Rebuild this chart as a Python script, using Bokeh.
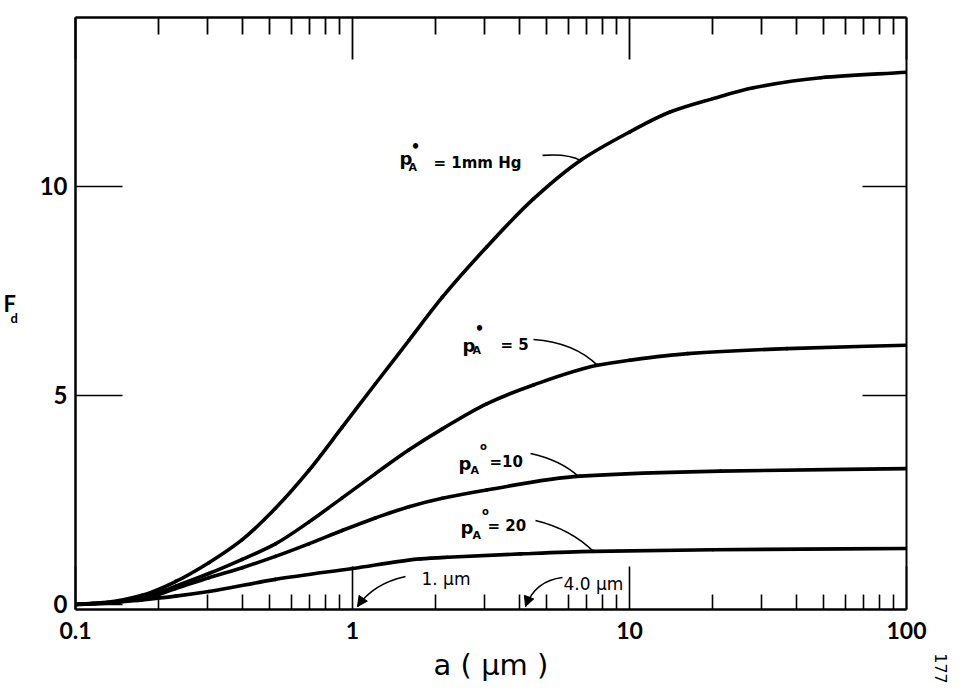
from math import pi, log10
from bokeh.plotting import figure
from bokeh.models import LogAxis, LinearAxis, FixedTicker, Range1d, Label, Arrow, NormalHead
from bokeh.embed import file_html
from bokeh.resources import INLINE

# ---------------- data ----------------
a_1mm = [0.1, 0.13, 0.174, 0.23, 0.303, 0.40, 0.527, 0.695, 0.918, 1.21, 1.6, 2.11, 3.05, 4.5, 6.65, 10, 14, 20, 28, 49, 100]
F_1mm = [0.0, 0.05, 0.22, 0.55, 1.00, 1.55, 2.30, 3.20, 4.24, 5.28, 6.32, 7.35, 8.55, 9.70, 10.62, 11.30, 11.78, 12.10, 12.36, 12.60, 12.73]

a_5 = [0.1, 0.13, 0.174, 0.23, 0.303, 0.40, 0.527, 0.695, 0.918, 1.21, 1.6, 2.11, 3.05, 4.5, 7.66, 10, 16.2, 37, 100]
F_5 = [0.0, 0.04, 0.16, 0.44, 0.74, 1.08, 1.45, 1.97, 2.55, 3.13, 3.70, 4.20, 4.80, 5.25, 5.72, 5.84, 6.00, 6.12, 6.20]

a_10 = [0.1, 0.13, 0.174, 0.23, 0.303, 0.40, 0.527, 0.695, 0.918, 1.21, 1.6, 2.11, 3.05, 6.65, 21.3, 100]
F_10 = [0.0, 0.04, 0.13, 0.38, 0.64, 0.88, 1.15, 1.45, 1.77, 2.07, 2.34, 2.54, 2.74, 3.07, 3.19, 3.25]

a_20 = [0.1, 0.13, 0.174, 0.23, 0.303, 0.527, 1.0, 1.76, 2.2, 4.04, 7.4, 20, 100]
F_20 = [0.0, 0.03, 0.11, 0.20, 0.31, 0.60, 0.86, 1.09, 1.13, 1.21, 1.27, 1.31, 1.34]

x_major = [0.1, 1, 10, 100]
x_major_labels = ["0.1", "1", "10", "100"]
x_minor = [0.2, 0.3, 0.4, 0.5, 0.6, 0.7, 0.8, 0.9,
           2, 3, 4, 5, 6, 7, 8, 9,
           20, 30, 40, 50, 60, 70, 80, 90]
y_major = [0, 5, 10]
y_major_labels = ["0", "5", "10"]
y_right_ticks = [5, 10]

x_title = "a ( μm )"
y_title_main = "F"
y_title_sub = "d"
curve_labels = ["= 1mm  Hg", "= 5", "=10", "= 20"]
marker_labels = ["1. μm", "4.0 μm"]
page_number = "177"

# ---------------- helpers for annotation placement (pixel -> data) ----------------
def sx(px):
    return 10 ** (-1 + (px - 75) / 277.0)

def sy(py):
    return (604 - py) / 41.8

TICK_FONT = "Lato"
ANN_FONT = "DejaVu Sans"

p = figure(width=960, height=694, x_axis_type="log",
           x_range=Range1d(0.1, 100), y_range=Range1d(-0.12, 14.04),
           output_backend="svg", toolbar_location=None,
           min_border_left=75, min_border_right=54, min_border_top=17, min_border_bottom=85,
           outline_line_color=None, background_fill_color="white", border_fill_color="white")
p.grid.visible = False

# bottom axis
xb = p.xaxis[0]
xb.ticker = FixedTicker(ticks=x_major, minor_ticks=x_minor)
xb.major_label_overrides = dict(zip(x_major, x_major_labels))
xb.major_tick_in = 43
xb.major_tick_out = 0
xb.minor_tick_in = 15
xb.minor_tick_out = 0
xb.axis_line_width = 2.5
xb.major_tick_line_width = 1.6
xb.minor_tick_line_width = 1.6
xb.major_label_text_font = TICK_FONT
xb.major_label_text_font_style = "bold"
xb.major_label_text_font_size = "23px"
xb.major_label_text_color = "black"
xb.major_label_standoff = 12
xb.axis_label = x_title
xb.axis_label_text_font = ANN_FONT
xb.axis_label_text_font_style = "normal"
xb.axis_label_text_font_size = "29px"
xb.axis_label_text_color = "black"
xb.axis_label_standoff = 6

# top axis
xt = LogAxis(ticker=FixedTicker(ticks=x_major, minor_ticks=x_minor),
             major_label_overrides={t: "" for t in x_major},
             major_tick_in=42, major_tick_out=0, minor_tick_in=17, minor_tick_out=0,
             axis_line_width=2.5, major_tick_line_width=1.8, minor_tick_line_width=1.8,
             major_label_text_font_size="0px", major_label_standoff=0)
p.add_layout(xt, "above")

# left axis
yl = p.yaxis[0]
yl.ticker = FixedTicker(ticks=y_major, minor_ticks=[])
yl.major_label_overrides = dict(zip(y_major, y_major_labels))
yl.major_tick_in = 47
yl.major_tick_out = 0
yl.minor_tick_in = 0
yl.minor_tick_out = 0
yl.axis_line_width = 2.5
yl.major_tick_line_width = 1.6
yl.major_label_text_font = TICK_FONT
yl.major_label_text_font_style = "bold"
yl.major_label_text_font_size = "24px"
yl.major_label_text_color = "black"
yl.major_label_standoff = 8

# right axis
yr = LinearAxis(ticker=FixedTicker(ticks=y_right_ticks, minor_ticks=[]),
                major_label_overrides={t: "" for t in y_right_ticks},
                major_tick_in=44, major_tick_out=0, minor_tick_in=0, minor_tick_out=0,
                axis_line_width=2, major_tick_line_width=1.6,
                major_label_text_font_size="0px", major_label_standoff=0)
p.add_layout(yr, "right")

# ---------------- curves: drawn through the read points as monotone cubic bezier pieces ----------------
def pchip_pieces(xs, ys):
    u = [log10(v) for v in xs]
    n = len(u)
    h = [u[i + 1] - u[i] for i in range(n - 1)]
    d = [(ys[i + 1] - ys[i]) / h[i] for i in range(n - 1)]
    m = [0.0] * n
    m[0], m[-1] = d[0], d[-1]
    for i in range(1, n - 1):
        if d[i - 1] * d[i] <= 0:
            m[i] = 0.0
        else:
            w1 = 2 * h[i] + h[i - 1]
            w2 = h[i] + 2 * h[i - 1]
            m[i] = (w1 + w2) / (w1 / d[i - 1] + w2 / d[i])
    out = {k: [] for k in ("x0", "y0", "x1", "y1", "cx0", "cy0", "cx1", "cy1")}
    for i in range(n - 1):
        out["x0"].append(xs[i]); out["y0"].append(ys[i])
        out["x1"].append(xs[i + 1]); out["y1"].append(ys[i + 1])
        out["cx0"].append(10 ** (u[i] + h[i] / 3)); out["cy0"].append(ys[i] + m[i] * h[i] / 3)
        out["cx1"].append(10 ** (u[i + 1] - h[i] / 3)); out["cy1"].append(ys[i + 1] - m[i + 1] * h[i] / 3)
    return out

for a, F in [(a_1mm, F_1mm), (a_5, F_5), (a_10, F_10), (a_20, F_20)]:
    pc = pchip_pieces(a, F)
    p.bezier(line_width=3.6, line_color="black", line_cap="round", **pc)

# ---------------- annotations ----------------
def lbl(px, py, text, size, font=ANN_FONT, style="bold", baseline="alphabetic", align="left", angle=0.0):
    p.add_layout(Label(x=sx(px), y=sy(py), text=text, text_font=font, text_font_style=style,
                       text_font_size=f"{size}px", text_color="black",
                       text_baseline=baseline, text_align=align, angle=angle))

def side_lbl(side, x, y, text, size, font=ANN_FONT, style="bold", baseline="alphabetic", align="left", angle=0.0):
    p.add_layout(Label(x=x, y=y, x_units="screen", y_units="screen",
                       text=text, text_font=font, text_font_style=style,
                       text_font_size=f"{size}px", text_color="black",
                       text_baseline=baseline, text_align=align, angle=angle), side)

def pA(px, py, sup_filled, sup_dx, sup_dy, sub_dx, sub_dy):
    lbl(px, py, "p", 18)
    lbl(px + sub_dx, py + sub_dy, "A", 11)
    if sup_filled:
        lbl(px + sup_dx, py + sup_dy, "•", 15, baseline="middle", align="center")
    else:
        lbl(px + sup_dx, py + sup_dy, "o", 10, baseline="middle", align="center")

# p_A° = 1mm Hg
pA(399, 158, True, 16, -11, 9, 9)
lbl(433, 163, curve_labels[0], 15)
# p_A° = 5
pA(462, 345, True, 17, -16, 10, 5)
lbl(500, 345, curve_labels[1], 15)
# p_A° = 10
pA(458, 463, False, 25, -17, 12, 7)
lbl(489, 462, curve_labels[2], 15)
# p_A° = 20
pA(460, 527, False, 25, -16, 12, 8)
lbl(487, 526, curve_labels[3], 15)

# leader lines (start, control, end in pixel space)
leaders = [((542, 155), (567, 153), (580, 160)),
           ((533, 339), (574, 342), (597, 365)),
           ((530, 453), (560, 459.5), (578, 476)),
           ((535, 520), (570, 528.5), (593, 551))]
for (x0, y0), (cx, cy), (x1, y1) in leaders:
    p.quadratic(x0=[sx(x0)], y0=[sy(y0)], cx=[sx(cx)], cy=[sy(cy)], x1=[sx(x1)], y1=[sy(y1)],
                line_color="black", line_width=1.6)

# size markers with arrows
lbl(421, 579, marker_labels[0], 17, style="normal")
lbl(563, 584, marker_labels[1], 17, style="normal")
arrows = [((405, 576), (373, 583), (357, 606)),
          ((562, 577), (535, 580), (525, 606))]
for (x0, y0), (cx, cy), (x1, y1) in arrows:
    p.quadratic(x0=[sx(x0)], y0=[sy(y0)], cx=[sx(cx)], cy=[sy(cy)], x1=[sx(x1)], y1=[sy(y1)],
                line_color="black", line_width=1.6)
    tx, ty = x1 - cx, y1 - cy
    norm = (tx * tx + ty * ty) ** 0.5
    xs, ys = x1 - 6 * tx / norm, y1 - 6 * ty / norm
    p.add_layout(Arrow(x_start=sx(xs), y_start=sy(ys), x_end=sx(x1), y_end=sy(y1),
                       line_width=1.6, line_color="black",
                       end=NormalHead(size=10, fill_color="black", line_color="black")))

# y axis title F_d and page number in the side panels (not clipped to the frame)
side_lbl("left", -21, 306, y_title_main, 22, font=TICK_FONT)
side_lbl("left", -7, 292, y_title_sub, 13, font=TICK_FONT)
side_lbl("right", 34, -59, page_number, 16, style="normal", baseline="middle", align="center", angle=-pi / 2)

open("out.html", "w").write(file_html(p, INLINE))
